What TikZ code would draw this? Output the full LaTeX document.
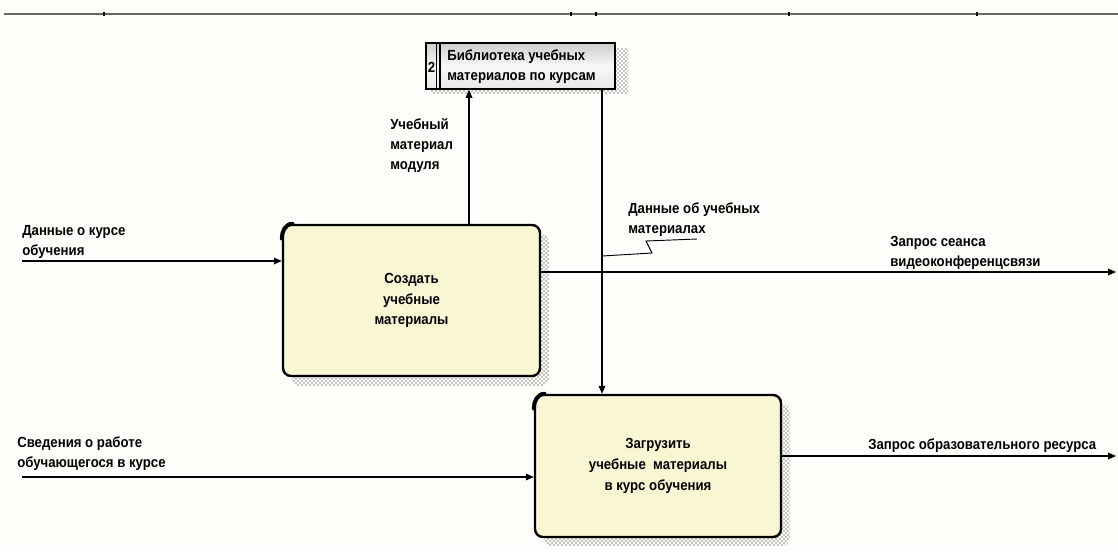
\documentclass[tikz,border=0pt]{standalone}
\usepackage{fontspec}
\setmainfont[FakeStretch=0.9]{Liberation Sans}
\usetikzlibrary{arrows.meta,patterns}
\definecolor{paper}{RGB}{255,254,251}
\definecolor{boxfill}{RGB}{249,246,212}
\definecolor{storetop}{RGB}{205,205,205}
\definecolor{storebot}{RGB}{232,232,232}
\definecolor{rulegray}{RGB}{105,105,105}
\tikzset{
  activity/.style={draw=black, line width=1.8pt, rounded corners=6pt, fill=boxfill, inner sep=0pt,
    font=\bfseries\fontsize{11}{15.5}\selectfont, align=center},
  shadowpat/.style={pattern=crosshatch dots, pattern color=black, rounded corners=6pt},
  flow/.style={line width=0.9pt, -{Triangle[length=6pt,width=5pt]}},
  plain/.style={line width=0.7pt},
  lbl/.style={font=\bfseries\fontsize{11}{15}\selectfont, align=left, inner sep=0pt, anchor=west},
  corner/.style={line width=3pt, line cap=round},
}
\begin{document}
\begin{tikzpicture}[x=0.75pt,y=-0.75pt]
\useasboundingbox[fill=paper] (0,0) rectangle (1118,551);

% header rule with ticks
\draw[rulegray, line width=1.6pt] (4,14) -- (1118,14);
\foreach \t in {104,571,596,789,977}
  \draw[black, line width=0.8pt] (\t,11.5) -- (\t,16);

% hatched shadows
\fill[shadowpat] (292,234) rectangle (549,386);
\fill[shadowpat] (544,404) rectangle (790,546);
\fill[pattern=crosshatch dots, pattern color=black] (431,48) rectangle (628,93);

% activity boxes
\node[activity, minimum width=192.75pt, minimum height=113.25pt] (create) at (411.5,300.5)
  {Создать\\учебные\\материалы};
\node[activity, minimum width=184.5pt, minimum height=106.5pt] (upload) at (658,466)
  {Загрузить\\учебные\ \ материалы\\в курс обучения};
\draw[corner] ([yshift=-11pt]create.north west) to[out=90,in=180] ([xshift=8pt]create.north west);
\draw[corner] ([yshift=-11pt]upload.north west) to[out=90,in=180] ([xshift=8pt]upload.north west);

% data store
\node[draw=black, line width=1.2pt, top color=storetop, bottom color=storebot, middle color=white!85!storetop,
      minimum width=141.75pt, minimum height=34.5pt, inner sep=0pt] (store) at (520.5,66) {};
\draw[line width=0.8pt] (436.5,43) -- (436.5,89);
\draw[line width=0.8pt] (440,43) -- (440,89);
\node[font=\bfseries\fontsize{11}{15}\selectfont, inner sep=0pt] (storeno) at (431.5,67) {2};
\node[lbl] (storetxt) at (447,66.5) {Библиотека учебных\\материалов по курсам};

% anchor points
\coordinate (inA) at (22,261);
\coordinate (inB) at (22,477);
\coordinate (outA) at (1116,272);
\coordinate (outB) at (1116,456);
\coordinate (upx) at (469,0);
\coordinate (downx) at (602,0);

% connectors
\draw[flow] (inA) -- (inA -| create.west);
\draw[flow] (inB) -- (inB -| upload.west);
\draw[flow] (outA -| create.east) -- (outA);
\draw[flow] (outB -| upload.east) -- (outB);
\draw[flow] (create.north -| upx) -- (store.south -| upx);
\draw[flow] (store.south -| downx) -- (upload.north -| downx);

% squiggle leader
\coordinate (sq) at (602,256);
\draw[plain] (sq) -- (652,253) -- (646,241) -- (697,239);

% labels
\node[lbl] (lin1) at (22,242) {Данные о курсе\\обучения};
\node[lbl] (lin2) at (17,454) {Сведения о работе\\обучающегося в курсе};
\node[lbl] (lup) at (390,146) {Учебный\\материал\\модуля};
\node[lbl] (ldown) at (628,220) {Данные об учебных\\материалах};
\node[lbl] (lout1) at (890,253) {Запрос сеанса\\видеоконференцсвязи};
\node[lbl] (lout2) at (868,446) {Запрос образовательного ресурса};
\end{tikzpicture}
\end{document}
